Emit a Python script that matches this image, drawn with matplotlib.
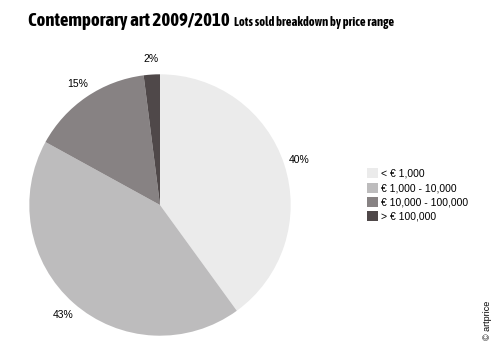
import matplotlib.pyplot as plt
from matplotlib import font_manager
from matplotlib.patches import Patch

# Lots sold breakdown by price range
categories = ['< € 1,000', '€ 1,000 - 10,000', '€ 10,000 - 100,000', '> € 100,000']
shares = [40, 43, 15, 2]
colors = ['#ebebeb', '#bdbcbd', '#878283', '#4f4849']

regular = ['Liberation Sans', 'DejaVu Sans']


def is_bold(f):
    w = f.weight
    return (isinstance(w, int) and w >= 600) or (isinstance(w, str) and 'bold' in w.lower())


# use a bold condensed face for the title if one is installed
condensed = sorted({f.name for f in font_manager.fontManager.ttflist
                    if ('Narrow' in f.name or 'Condensed' in f.name) and is_bold(f)})
if condensed:
    title_family, title_size, sub_size = [condensed[0], 'DejaVu Sans'], 13.5, 9
else:
    title_family, title_size, sub_size = regular, 11, 7.5

fig = plt.figure(figsize=(5, 3.56), dpi=100)
fig.patch.set_facecolor('white')

# pie axes: centre ~ (160, 205) px, radius ~132 px
ax = fig.add_axes([28 / 500, 19 / 356, 264 / 500, 264 / 356])
wedges, texts = ax.pie(shares, colors=colors, startangle=90, counterclock=False,
                       labels=[f'{s}%' for s in shares], labeldistance=1.12,
                       wedgeprops=dict(linewidth=0))
for t in texts:
    t.set_fontsize(7.5)
    t.set_family(regular)
    t.set_ha('center')
    t.set_va('center')
ax.set_xlim(-1.01, 1.01)
ax.set_ylim(-1.01, 1.01)
ax.set_aspect('equal')
ax.axis('off')

title = fig.text(28 / 500, 1 - 26 / 356, 'Contemporary art 2009/2010', family=title_family,
                 fontsize=title_size, fontweight='bold', va='baseline', ha='left')
fig.canvas.draw()
bb = title.get_window_extent()
fig.text((bb.x1 + 4) / 500, 1 - 26 / 356, 'Lots sold breakdown by price range',
         family=title_family, fontsize=sub_size, fontweight='bold', va='baseline', ha='left')

handles = [Patch(facecolor=c, edgecolor='none') for c in colors]
fig.legend(handles, categories, loc='center left', bbox_to_anchor=(362 / 500, 1 - 195 / 356),
           frameon=False, handlelength=1.0, handleheight=1.1,
           handletextpad=0.3, labelspacing=0.35, borderpad=0,
           prop={'family': regular, 'size': 7.5})

fig.text(488 / 500, 1 - 320 / 356, '© artprice', rotation=90, fontsize=6.5,
         ha='center', va='center', family=regular)

fig.savefig('out.png', dpi=100, facecolor='white')
